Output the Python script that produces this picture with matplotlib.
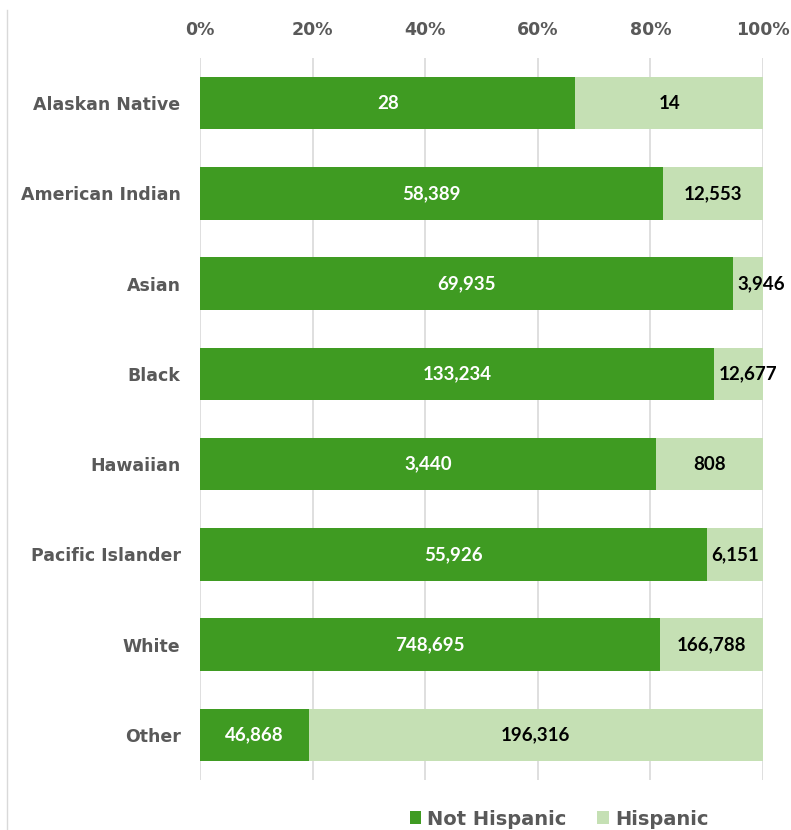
import matplotlib
matplotlib.use("Agg")
import matplotlib.pyplot as plt
from matplotlib.lines import Line2D
from matplotlib.patches import Patch
import numpy as np

categories = ["Alaskan Native", "American Indian", "Asian", "Black",
              "Hawaiian", "Pacific Islander", "White", "Other"]
not_hispanic = [28, 58389, 69935, 133234, 3440, 55926, 748695, 46868]
hispanic = [14, 12553, 3946, 12677, 808, 6151, 166788, 196316]
tick_labels = ["0%", "20%", "40%", "60%", "80%", "100%"]

DARK = "#3F9B22"
LIGHT = "#C5E0B4"
GREY = "#595959"

fig = plt.figure(figsize=(7.91, 8.30), dpi=100)
ax = fig.add_axes([200 / 791, 1 - 780 / 830, 563 / 791, 722 / 830])

nh = np.array(not_hispanic, dtype=float)
hi = np.array(hispanic, dtype=float)
tot = nh + hi
p_nh = nh / tot
p_hi = hi / tot
y = np.arange(len(categories))

ax.barh(y, p_nh, height=0.58, color=DARK, zorder=2)
ax.barh(y, p_hi, left=p_nh, height=0.58, color=LIGHT, zorder=2)

ax.set_xlim(0, 1)
ax.set_ylim(len(categories) - 0.5, -0.5)

label_kw = dict(va="center", fontsize=13.5, fontweight="bold", family="Lato", zorder=3)
fig.canvas.draw()
renderer = fig.canvas.get_renderer()
px_per_unit = ax.get_window_extent().width  # pixels for the full 0..1 span

for i in range(len(categories)):
    ax.text(p_nh[i] / 2, y[i], f"{not_hispanic[i]:,}", ha="center",
            color="white", **label_kw)
    t = ax.text(p_nh[i] + p_hi[i] / 2, y[i], f"{hispanic[i]:,}", ha="center",
                color="black", **label_kw)
    w = t.get_window_extent(renderer).width / px_per_unit
    if w > p_hi[i]:
        # too wide for its segment: start it just inside the segment instead
        t.set_x(p_nh[i] + 5 / px_per_unit)
        t.set_ha("left")

ax.set_xticks(np.linspace(0, 1, 6))
ax.set_xticklabels(tick_labels)
ax.xaxis.tick_top()
ax.tick_params(axis="x", length=0, pad=14, labelsize=12.5, colors=GREY)
ax.set_yticks(y)
ax.set_yticklabels(categories)
ax.tick_params(axis="y", length=0, pad=14, labelsize=12.5, colors=GREY)
for lbl in ax.get_yticklabels():
    lbl.set_fontweight("bold")
for lbl in ax.get_xticklabels():
    lbl.set_fontweight("bold")
ax.grid(axis="x", color="#D9D9D9", linewidth=1.2, zorder=0)
for s in ax.spines.values():
    s.set_visible(False)

# left border of the chart area
fig.add_artist(Line2D([7 / 791, 7 / 791], [0, 1 - 10 / 830],
                      transform=fig.transFigure, color="#D9D9D9", linewidth=1))

handles = [Patch(facecolor=DARK, label="Not Hispanic"),
           Patch(facecolor=LIGHT, label="Hispanic")]
fig.legend(handles=handles, loc="center", bbox_to_anchor=(559 / 791, 1 - 819 / 830),
           ncol=2, frameon=False, handlelength=0.6, handleheight=0.6,
           handletextpad=0.3, columnspacing=1.6,
           prop={"weight": "bold", "size": 14}, labelcolor=GREY)

fig.savefig("out.png", dpi=100)
